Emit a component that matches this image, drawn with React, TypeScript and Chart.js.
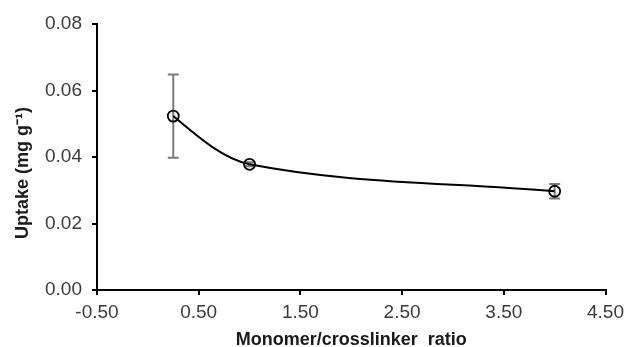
import React, { useEffect, useRef } from "react";
import { Chart, registerables } from "chart.js";

Chart.register(...registerables);

const ratios = [0.25, 1.0, 4.0];
const uptake = [0.0523, 0.0378, 0.0297];
const uptakeErr = [0.0125, 0.0006, 0.0022];
const xTicks = [-0.5, 0.5, 1.5, 2.5, 3.5, 4.5];
const yTicks = [0, 0.02, 0.04, 0.06, 0.08];
const xTitle = "Monomer/crosslinker  ratio";
const yTitle = "Uptake (mg g\u207B\u00B9)";

const FONT = "'Liberation Sans', Arial, sans-serif";

const curvePlugin = {
  id: "curveAndErrors",
  beforeDatasetsDraw(chart: any) {
    const ctx = chart.ctx;
    const xs = chart.scales.x;
    const ys = chart.scales.y;
    ctx.save();
    // error bars
    ctx.strokeStyle = "#7a7a7a";
    ctx.lineWidth = 2;
    for (let i = 0; i < ratios.length; i++) {
      const px = xs.getPixelForValue(ratios[i]);
      const top = ys.getPixelForValue(uptake[i] + uptakeErr[i]);
      const bot = ys.getPixelForValue(uptake[i] - uptakeErr[i]);
      ctx.beginPath();
      ctx.moveTo(px, top);
      ctx.lineTo(px, bot);
      ctx.moveTo(px - 5.5, top);
      ctx.lineTo(px + 5.5, top);
      ctx.moveTo(px - 5.5, bot);
      ctx.lineTo(px + 5.5, bot);
      ctx.stroke();
    }
    // smoothed curve
    const pts = ratios.map((r, i) => ({ x: xs.getPixelForValue(r), y: ys.getPixelForValue(uptake[i]) }));
    const n = pts.length;
    const sec: number[] = [];
    for (let i = 0; i < n - 1; i++) sec.push((pts[i + 1].y - pts[i].y) / (pts[i + 1].x - pts[i].x));
    const s: number[] = new Array(n).fill(0);
    for (let i = 1; i < n - 1; i++) s[i] = (pts[i + 1].y - pts[i - 1].y) / (pts[i + 1].x - pts[i - 1].x);
    s[0] = n > 2 ? (3 * sec[0] - s[1]) / 2 : sec[0];
    s[n - 1] = sec[n - 2];
    ctx.strokeStyle = "#000";
    ctx.lineWidth = 2;
    ctx.beginPath();
    ctx.moveTo(pts[0].x, pts[0].y);
    for (let i = 0; i < n - 1; i++) {
      const dx = pts[i + 1].x - pts[i].x;
      ctx.bezierCurveTo(
        pts[i].x + dx / 3, pts[i].y + (s[i] * dx) / 3,
        pts[i + 1].x - dx / 3, pts[i + 1].y - (s[i + 1] * dx) / 3,
        pts[i + 1].x, pts[i + 1].y
      );
    }
    ctx.stroke();
    ctx.restore();
  },
  afterDraw(chart: any) {
    const ctx = chart.ctx;
    const area = chart.chartArea;
    ctx.save();
    ctx.fillStyle = "#1a1a1a";
    ctx.font = `bold 18px ${FONT}`;
    ctx.textAlign = "center";
    ctx.textBaseline = "alphabetic";
    ctx.fillText(xTitle, (area.left + area.right) / 2, 345);
    ctx.translate(28, 173);
    ctx.rotate(-Math.PI / 2);
    ctx.fillText(yTitle, 0, 0);
    ctx.restore();
  },
};

export default function App() {
  const ref = useRef<HTMLCanvasElement | null>(null);
  useEffect(() => {
    document.body.style.margin = "0";
    const canvas = ref.current!;
    const chart = new Chart(canvas, {
      type: "scatter",
      data: {
        datasets: [
          {
            data: ratios.map((r, i) => ({ x: r, y: uptake[i] })),
            showLine: false,
            borderColor: "#000",
            pointRadius: 5.5,
            pointBorderWidth: 1.8,
            pointBorderColor: "#000",
            pointBackgroundColor: "rgba(0,0,0,0)",
          },
        ],
      },
      options: {
        animation: false,
        responsive: false,
        layout: { padding: { top: 24, right: 23, left: 0, bottom: 0 } },
        plugins: { legend: { display: false }, tooltip: { enabled: false } },
        scales: {
          x: {
            type: "linear",
            min: -0.5,
            max: 4.5,
            afterBuildTicks: (sc: any) => {
              sc.ticks = xTicks.map((v) => ({ value: v }));
            },
            afterFit: (sc: any) => {
              sc.height = 57;
            },
            ticks: {
              callback: (v: any) => Number(v).toFixed(2),
              color: "#3a3a3a",
              font: { family: FONT, size: 19 },
              padding: 6,
              maxRotation: 0,
            },
            grid: { drawOnChartArea: false, drawTicks: true, tickLength: 5, color: "#000", lineWidth: 2 },
            border: { display: true, color: "#000", width: 2 },
          },
          y: {
            type: "linear",
            min: 0,
            max: 0.08,
            afterBuildTicks: (sc: any) => {
              sc.ticks = yTicks.map((v) => ({ value: v }));
            },
            afterFit: (sc: any) => {
              sc.width = 97;
            },
            ticks: {
              callback: (v: any) => Number(v).toFixed(2),
              color: "#3a3a3a",
              font: { family: FONT, size: 19 },
              padding: 10,
            },
            grid: { drawOnChartArea: false, drawTicks: true, tickLength: 5, color: "#000", lineWidth: 2 },
            border: { display: true, color: "#000", width: 2 },
          },
        },
      },
      plugins: [curvePlugin],
    } as any);
    return () => chart.destroy();
  }, []);
  return <canvas ref={ref} width={630} height={347} style={{ display: "block" }} />;
}
